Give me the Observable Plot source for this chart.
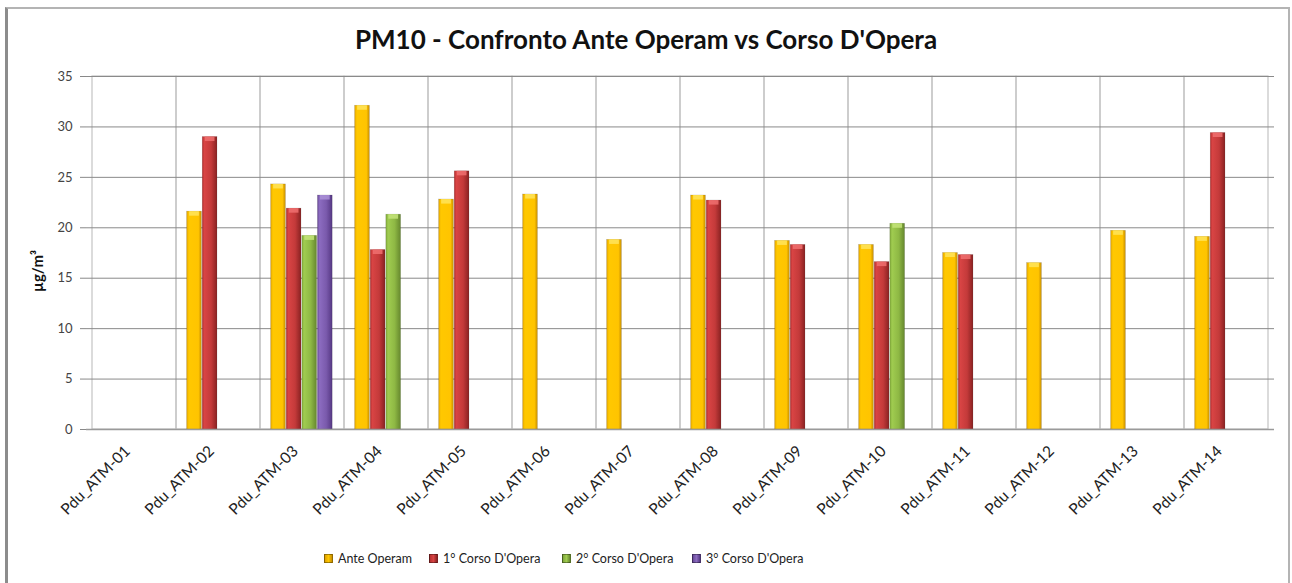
<!DOCTYPE html>
<html>
<head>
<meta charset="utf-8">
<script src="https://cdn.jsdelivr.net/npm/d3@7"></script>
<script src="https://cdn.jsdelivr.net/npm/@observablehq/plot@0.6"></script>
<style>
  body { margin: 0; background: #fff; font-family: Lato, "Open Sans", sans-serif; }
  #wrap { position: relative; width: 1292px; height: 583px; overflow: hidden; background: #fff; }
  #border { position: absolute; left: 5px; top: 7px; width: 1280px; height: 600px;
            border-left: 3px solid #8c8c8c; border-top: 2px solid #b4b4b4; border-right: 2px solid #b4b4b4; }
  #title { position: absolute; left: 0; width: 1292px; top: 23px; text-align: center;
           font-weight: bold; font-size: 26px; color: #111; }
  #chart { position: absolute; left: 0; top: 60px; }
  .leg { position: absolute; top: 551px; font-size: 12.5px; color: #222; white-space: nowrap; line-height: 16px; }
  .sw { display: inline-block; width: 7px; height: 7px; margin-right: 5px; vertical-align: 0px; border: 1px solid rgba(0,0,0,0.35); }
</style>
</head>
<body>
<svg width="0" height="0" style="position:absolute">
  <defs>
    <linearGradient id="gAnte" x1="0" x2="1" y1="0" y2="0">
      <stop offset="0" stop-color="#E0A200"/>
      <stop offset="0.15" stop-color="#FFC800"/>
      <stop offset="0.8" stop-color="#FFC400"/>
      <stop offset="1" stop-color="#C99000"/>
    </linearGradient>
    <linearGradient id="gC1" x1="0" x2="1" y1="0" y2="0">
      <stop offset="0" stop-color="#B83030"/>
      <stop offset="0.15" stop-color="#D84444"/>
      <stop offset="0.6" stop-color="#C43A3A"/>
      <stop offset="1" stop-color="#8A2222"/>
    </linearGradient>
    <linearGradient id="gC2" x1="0" x2="1" y1="0" y2="0">
      <stop offset="0" stop-color="#7FA83A"/>
      <stop offset="0.15" stop-color="#A0CC50"/>
      <stop offset="0.6" stop-color="#8EB844"/>
      <stop offset="1" stop-color="#66882E"/>
    </linearGradient>
    <linearGradient id="gC3" x1="0" x2="1" y1="0" y2="0">
      <stop offset="0" stop-color="#6A4A9A"/>
      <stop offset="0.15" stop-color="#8C6CC0"/>
      <stop offset="0.6" stop-color="#7A5AAC"/>
      <stop offset="1" stop-color="#563884"/>
    </linearGradient>
  </defs>
</svg>
<div id="wrap">
  <div id="border"></div>
  <div id="title"></div>
  <div id="chart"></div>
  <div id="legend"></div>
</div>
<script>
const title = "PM10 - Confronto Ante Operam vs Corso D'Opera";
const categories = ["Pdu_ATM-01","Pdu_ATM-02","Pdu_ATM-03","Pdu_ATM-04","Pdu_ATM-05","Pdu_ATM-06","Pdu_ATM-07",
                    "Pdu_ATM-08","Pdu_ATM-09","Pdu_ATM-10","Pdu_ATM-11","Pdu_ATM-12","Pdu_ATM-13","Pdu_ATM-14"];
const seriesNames = ["Ante Operam", "1° Corso D'Opera", "2° Corso D'Opera", "3° Corso D'Opera"];
const anteOperam = [null, 21.6, 24.3, 32.1, 22.8, 23.3, 18.8, 23.2, 18.7, 18.3, 17.5, 16.5, 19.7, 19.1];
const corso1     = [null, 29.0, 21.9, 17.8, 25.6, null, null, 22.7, 18.3, 16.6, 17.3, null, null, 29.4];
const corso2     = [null, null, 19.2, 21.3, null, null, null, null, null, 20.4, null, null, null, null];
const corso3     = [null, null, 23.2, null, null, null, null, null, null, null, null, null, null, null];
const yTicks = [0, 5, 10, 15, 20, 25, 30, 35];
const yLabel = "µg/m³";
const fills = ["url(#gAnte)", "url(#gC1)", "url(#gC2)", "url(#gC3)"];
const capFills = ["#FFE45A", "#F07070", "#C4E47A", "#AC92D8"];
const legendSwatch = ["linear-gradient(90deg,#E0A200,#FFC800,#C99000)", "linear-gradient(90deg,#B83030,#D84444,#8A2222)",
                      "linear-gradient(90deg,#7FA83A,#A0CC50,#66882E)", "linear-gradient(90deg,#6A4A9A,#8C6CC0,#563884)"];
const legendX = [324, 429, 562, 692];

const allSeries = [anteOperam, corso1, corso2, corso3];

document.getElementById("title").textContent = title;

// layout of the 4 bar slots inside each category band
const W = 1292, mL = 86, mR = 18;
const band = (W - mL - mR) / categories.length;
const slot = 15.6;
const groupPad = (band - 4 * slot) / 2 - 0.6;

const barMarks = allSeries.flatMap((vals, s) => {
  const rows = [];
  vals.forEach((v, i) => { if (v != null) rows.push({cat: categories[i], series: seriesNames[s], value: v}); });
  const insetLeft = groupPad + s * slot;
  const insetRight = band - groupPad - (s + 1) * slot;
  return [
    Plot.barY(rows, {x: "cat", y: "value", fill: fills[s], insetLeft, insetRight,
                     stroke: "rgba(0,0,0,0.2)", strokeWidth: 0.6}),
    Plot.barY(rows, {x: "cat", y1: d => d.value - 0.45, y2: "value", fill: capFills[s], fillOpacity: 0.85,
                     insetLeft: insetLeft + 2.5, insetRight: insetRight + 2.5})
  ];
});

const chart = Plot.plot({
  width: W,
  height: 470,
  marginLeft: mL,
  marginRight: mR,
  marginTop: 16,
  marginBottom: 101,
  style: {fontFamily: "Lato, sans-serif", background: "transparent", overflow: "visible"},
  x: {domain: categories, padding: 0, axis: null},
  y: {domain: [0, 35], axis: null},
  marks: [
    Plot.cell(categories, {x: d => d, fill: "none", stroke: "#c4c4c4", strokeWidth: 1.2}),
    Plot.gridY(yTicks, {stroke: "#8a8a8a", strokeOpacity: 1, strokeWidth: 1}),
    ...barMarks,
    Plot.ruleY([0], {stroke: "#9a9a9a", strokeWidth: 1.5}),
    Plot.axisY(yTicks, {tickSize: 6, tickPadding: 8, fontSize: 13, fill: "#444", stroke: "#888", label: null}),
    Plot.text([yLabel], {frameAnchor: "left", textAnchor: "middle", dx: -48, dy: 18, rotate: -90,
                         fontSize: 15, fontWeight: "bold", fill: "#111"}),
    Plot.axisX({anchor: "bottom", tickRotate: -45, tickSize: 0, tickPadding: 19, dx: -7, fontSize: 15.5, fill: "#222", label: null})
  ]
});
document.getElementById("chart").appendChild(chart);

const legend = document.getElementById("legend");
seriesNames.forEach((name, i) => {
  const d = document.createElement("div");
  d.className = "leg";
  d.style.left = legendX[i] + "px";
  const sw = document.createElement("span");
  sw.className = "sw";
  sw.style.background = legendSwatch[i];
  d.appendChild(sw);
  d.appendChild(document.createTextNode(name));
  legend.appendChild(d);
});
</script>
</body>
</html>
